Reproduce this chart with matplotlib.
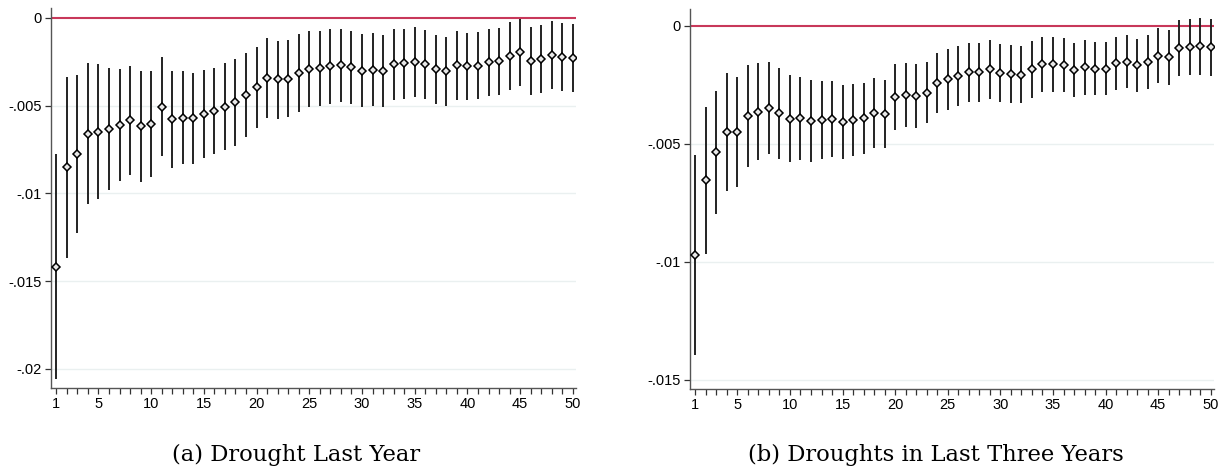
import matplotlib
matplotlib.use("Agg")
import matplotlib.pyplot as plt
import numpy as np

horizon = np.arange(1, 51)

# (a) Drought Last Year
coef_a = [-0.0142, -0.0085, -0.00776, -0.0066, -0.00648, -0.00631, -0.0061, -0.00582, -0.00618, -0.00606,
          -0.00506, -0.00578, -0.0057, -0.00572, -0.00549, -0.0053, -0.00507, -0.00481, -0.00441, -0.00395,
          -0.00344, -0.0035, -0.00346, -0.00315, -0.00289, -0.00287, -0.00276, -0.0027, -0.00281, -0.003,
          -0.00294, -0.00304, -0.00264, -0.00259, -0.00249, -0.00262, -0.00291, -0.00304, -0.00268, -0.00276,
          -0.00272, -0.00251, -0.00247, -0.00215, -0.00196, -0.00243, -0.00232, -0.00211, -0.00221, -0.00228]
hi_a = [-0.00776, -0.00336, -0.00327, -0.00255, -0.00264, -0.00287, -0.00289, -0.00272, -0.003, -0.00304,
        -0.00224, -0.00302, -0.00304, -0.00314, -0.00298, -0.00283, -0.00258, -0.00232, -0.00201, -0.00163,
        -0.00116, -0.00131, -0.00127, -0.00091, -0.00074, -0.00072, -0.00063, -0.00061, -0.00076, -0.00093,
        -0.00087, -0.00097, -0.00065, -0.00063, -0.00053, -0.00068, -0.00097, -0.00108, -0.00072, -0.00086,
        -0.0008, -0.00061, -0.00057, -0.00023, -0.00004, -0.00051, -0.0004, -0.00017, -0.00029, -0.00034]
lo_a = [-0.0206, -0.01367, -0.01224, -0.01062, -0.0103, -0.0098, -0.00931, -0.00893, -0.00937, -0.00906,
        -0.00785, -0.00853, -0.00834, -0.0083, -0.008, -0.00777, -0.00754, -0.00728, -0.0068, -0.00625,
        -0.00572, -0.00576, -0.00566, -0.00534, -0.00509, -0.00504, -0.00488, -0.00481, -0.00492, -0.00509,
        -0.005, -0.00509, -0.00466, -0.0046, -0.00448, -0.0046, -0.00488, -0.00502, -0.00466, -0.00469,
        -0.00464, -0.00447, -0.00441, -0.00409, -0.0039, -0.00437, -0.00428, -0.00407, -0.00416, -0.00424]

# (b) Droughts in Last Three Years
coef_b = [-0.00972, -0.00655, -0.00536, -0.0045, -0.0045, -0.00383, -0.00364, -0.00347, -0.00371, -0.00394,
          -0.00391, -0.00403, -0.004, -0.00395, -0.00409, -0.004, -0.00392, -0.0037, -0.00374, -0.00303,
          -0.00294, -0.00298, -0.00285, -0.00243, -0.00227, -0.00212, -0.00198, -0.00196, -0.00185, -0.002,
          -0.00203, -0.00208, -0.00185, -0.00164, -0.00164, -0.00168, -0.00189, -0.00176, -0.00182, -0.00182,
          -0.00159, -0.00152, -0.00168, -0.00154, -0.00127, -0.00133, -0.00093, -0.0009, -0.00086, -0.0009]
hi_b = [-0.00548, -0.00346, -0.00275, -0.00202, -0.00217, -0.00167, -0.00159, -0.00154, -0.00179, -0.0021,
        -0.00217, -0.0023, -0.00234, -0.00234, -0.00253, -0.00248, -0.00241, -0.00222, -0.0023, -0.00164,
        -0.00157, -0.00164, -0.00155, -0.00114, -0.001, -0.00086, -0.00073, -0.00072, -0.00062, -0.00078,
        -0.00082, -0.00087, -0.00065, -0.00047, -0.00048, -0.00053, -0.00075, -0.00062, -0.0007, -0.00069,
        -0.00048, -0.00039, -0.00056, -0.00039, -0.00011, -0.00018, 0.00024, 0.00027, 0.00033, 0.00028]
lo_b = [-0.01395, -0.00966, -0.00797, -0.00699, -0.00682, -0.00599, -0.00569, -0.00544, -0.00564, -0.00578,
        -0.00568, -0.00576, -0.00566, -0.00558, -0.00566, -0.00553, -0.00545, -0.00517, -0.00518, -0.00442,
        -0.00431, -0.00433, -0.00414, -0.00371, -0.00356, -0.00339, -0.00323, -0.00322, -0.00309, -0.00322,
        -0.00326, -0.00328, -0.00305, -0.00282, -0.00281, -0.00282, -0.00303, -0.00292, -0.00295, -0.00292,
        -0.00274, -0.00265, -0.0028, -0.0027, -0.00244, -0.0025, -0.00213, -0.0021, -0.00208, -0.00213]

xtick_vals = [1, 5, 10, 15, 20, 25, 30, 35, 40, 45, 50]
ytick_a = [0, -0.005, -0.01, -0.015, -0.02]
ylab_a = ["0", "-.005", "-.01", "-.015", "-.02"]
ytick_b = [0, -0.005, -0.01, -0.015]
ylab_b = ["0", "-.005", "-.01", "-.015"]
captions = ["(a) Drought Last Year", "(b) Droughts in Last Three Years"]

plt.rcParams['font.family'] = ['Liberation Sans', 'DejaVu Sans']

W, H = 1221, 470
fig = plt.figure(figsize=(W / 100, H / 100), dpi=100)


def panel(rect, coef, lo, hi, yt, yl, ylim):
    ax = fig.add_axes(rect)
    coef = np.array(coef)
    for yv in yt[1:]:
        ax.axhline(yv, color="#eaf0f0", lw=1.0, zorder=0)
    ax.axhline(0, color="#c8385a", lw=1.5, zorder=1)
    ax.vlines(horizon, lo, hi, color="#222222", lw=1.4, zorder=2)
    ax.plot(horizon, coef, ls="none", marker="D", ms=4.2, mfc="#e8e8e8",
            mec="black", mew=1.1, zorder=3)
    ax.set_xlim(0.5, 50.3)
    ax.set_ylim(*ylim)
    ax.set_xticks(horizon, minor=True)
    ax.set_xticks(xtick_vals)
    ax.set_yticks(yt)
    ax.set_yticklabels(yl)
    ax.tick_params(axis="both", which="both", direction="out", length=4.5,
                   width=0.9, color="#333333", labelsize=10.5, pad=2)
    for s in ["top", "right"]:
        ax.spines[s].set_visible(False)
    for s in ["left", "bottom"]:
        ax.spines[s].set_color("#555555")
        ax.spines[s].set_linewidth(1.0)
    return ax


panel([51 / W, 1 - 388 / H, 525 / W, 380 / H], coef_a, lo_a, hi_a, ytick_a, ylab_a,
      (-0.0211, 0.00057))
panel([690 / W, 1 - 389 / H, 524 / W, 380 / H], coef_b, lo_b, hi_b, ytick_b, ylab_b,
      (-0.01539, 0.00071))

fig.text(296 / W, 1 - 461 / H, captions[0], ha="center", va="baseline",
         family="DejaVu Serif", fontsize=16.3)
fig.text(936 / W, 1 - 461 / H, captions[1], ha="center", va="baseline",
         family="DejaVu Serif", fontsize=16.3)

fig.savefig("out.png", dpi=100)
